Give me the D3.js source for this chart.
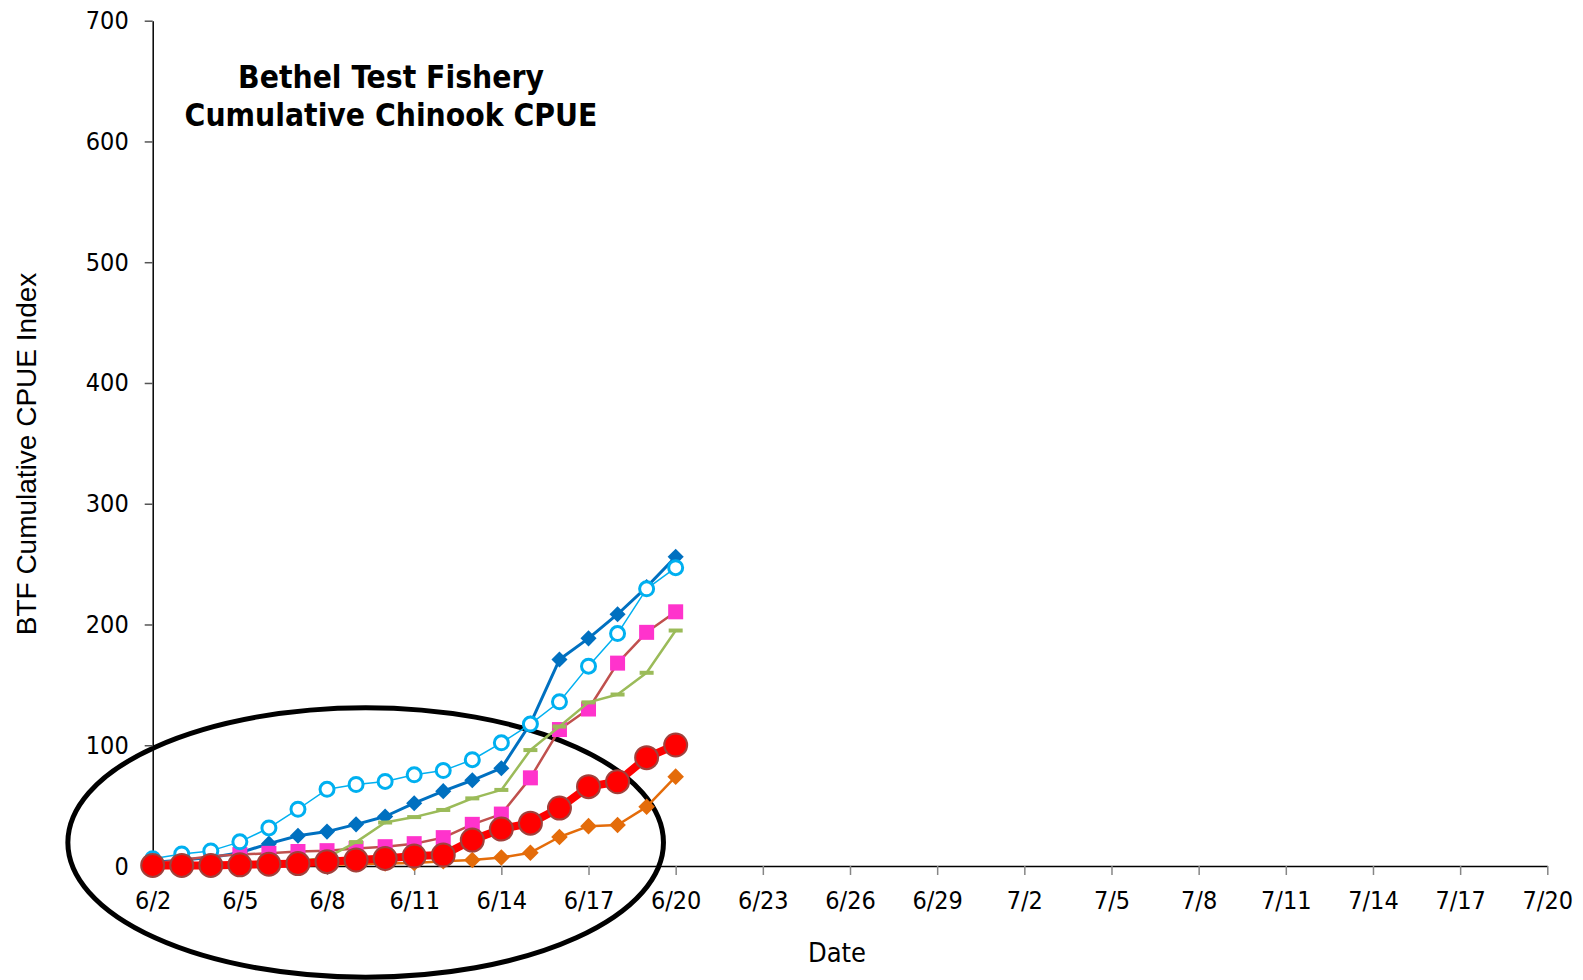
<!DOCTYPE html>
<html>
<head>
  <title>Bethel Test Fishery Cumulative Chinook CPUE</title>
  <style>
    body { margin: 0; background: #fff; }
    svg { display: block; }
    .tick text { font-family: "DejaVu Sans Condensed", "DejaVu Sans", sans-serif; font-size: 25px; fill: #000; }
  </style>
  <script src="https://d3js.org/d3.v7.min.js"></script>
</head>
<body>
  <div id="chart"></div>
  <script>
    // day 0 = 6/2; one value per day up to 6/20, axis runs to 7/20 (day 48)
    const lastDay = 48;
    const tickLabels = ["6/2", "6/5", "6/8", "6/11", "6/14", "6/17", "6/20", "6/23", "6/26", "6/29",
                        "7/2", "7/5", "7/8", "7/11", "7/14", "7/17", "7/20"];
    const yTicks = [0, 100, 200, 300, 400, 500, 600, 700];

    const darkBlue  = [3, 5, 7, 11, 18.5, 25, 28.5, 34.5, 41, 52, 62, 71, 81, 118, 171, 188.5, 208.5, 231, 256];
    const lightBlue = [6, 10, 12.5, 20, 31.5, 47, 63.5, 67.5, 70, 75.5, 79, 88, 102, 117.5, 136, 165.5, 192.5, 229.5, 247];
    const pink      = [2, 5, 8, 9.5, 10.5, 12, 12.7, 14.5, 16, 18.5, 23.5, 34.5, 43, 73, 113, 130, 168, 193.5, 210.5];
    const green     = [0.5, 1, 1.5, 2, 3, 4, 7, 19.8, 36, 40.5, 46.4, 56, 63, 96, 115.5, 135.5, 142, 160, 195];
    const orange    = [0, 0, 0, 0.5, 0.5, 1, 1, 1.5, 2, 2.5, 4, 5, 7, 11, 24, 33, 34, 49, 74];
    const current   = [0.5, 0.5, 0.5, 1, 1.5, 2, 3.6, 5, 6.3, 8.3, 9.1, 21.5, 30.6, 35.5, 48, 65.7, 69.8, 89.7, 100.2];

    // highlight ring, in data units (day offset from 6/2, index value)
    const ringCenter = { day: 7.33, value: 19.5 };
    const ringRadius = { days: 10.25, value: 111.6 };

    const W = 1583, H = 980;
    const svg = d3.select("#chart").append("svg").attr("width", W).attr("height", H);

    const x = d3.scaleLinear().domain([0, lastDay]).range([152.7, 1547.3]);
    const y = d3.scaleLinear().domain([0, 700]).range([866, 20.7]);

    // ring annotation
    svg.append("ellipse")
      .attr("cx", x(ringCenter.day))
      .attr("cy", y(ringCenter.value))
      .attr("rx", x(ringRadius.days) - x(0))
      .attr("ry", y(0) - y(ringRadius.value))
      .attr("fill", "none")
      .attr("stroke", "#000")
      .attr("stroke-width", 5);

    // axes
    const xAxis = d3.axisBottom(x).tickValues(tickLabels.map((_, i) => i * 3))
      .tickFormat((d, i) => tickLabels[i]).tickSizeOuter(0).tickSizeInner(9).tickPadding(16);
    const gx = svg.append("g").attr("transform", `translate(0,${y(0)})`).call(xAxis);
    gx.select(".domain").attr("stroke", "#000").attr("stroke-width", 1.5);
    gx.selectAll(".tick line").attr("stroke", "#868686").attr("stroke-width", 1.5);

    const yAxis = d3.axisLeft(y).tickValues(yTicks).tickSizeOuter(0).tickSizeInner(8).tickPadding(16);
    const gy = svg.append("g").attr("transform", `translate(${x(0)},0)`).call(yAxis);
    gy.select(".domain").attr("stroke", "#000").attr("stroke-width", 1.5);
    gy.selectAll(".tick line").attr("stroke", "#555").attr("stroke-width", 1.5);

    // series
    const line = d3.line().x((d, i) => x(i)).y(d => y(d));
    const pts = vals => vals.map((v, i) => ({ cx: x(i), cy: y(v) }));

    function drawLine(vals, color, width) {
      svg.append("path").datum(vals)
        .attr("d", line).attr("fill", "none")
        .attr("stroke", color).attr("stroke-width", width)
        .attr("stroke-linejoin", "round");
    }

    // dark blue, filled diamonds
    drawLine(darkBlue, "#0070C0", 3);
    svg.append("g").selectAll("path").data(pts(darkBlue)).join("path")
      .attr("d", d3.symbol(d3.symbolDiamond2, 165))
      .attr("transform", d => `translate(${d.cx},${d.cy})`)
      .attr("fill", "#0070C0");

    // pink squares on a brown-red line
    drawLine(pink, "#C0504D", 2.5);
    svg.append("g").selectAll("rect").data(pts(pink)).join("rect")
      .attr("x", d => d.cx - 7.5).attr("y", d => d.cy - 7.5)
      .attr("width", 15).attr("height", 15)
      .attr("fill", "#FF33CC");

    // green dashes
    drawLine(green, "#9BBB59", 2.5);
    svg.append("g").selectAll("rect").data(pts(green)).join("rect")
      .attr("x", d => d.cx - 7).attr("y", d => d.cy - 2)
      .attr("width", 14).attr("height", 4)
      .attr("fill", "#9BBB59");

    // orange diamonds
    drawLine(orange, "#E46C0A", 2.5);
    svg.append("g").selectAll("path").data(pts(orange)).join("path")
      .attr("d", d3.symbol(d3.symbolDiamond2, 175))
      .attr("transform", d => `translate(${d.cx},${d.cy})`)
      .attr("fill", "#E46C0A");

    // light blue open circles
    drawLine(lightBlue, "#00B0F0", 1.5);
    svg.append("g").selectAll("circle").data(pts(lightBlue)).join("circle")
      .attr("cx", d => d.cx).attr("cy", d => d.cy).attr("r", 7)
      .attr("fill", "#fff").attr("stroke", "#00B0F0").attr("stroke-width", 3);

    // current year: thick red line with big circles
    drawLine(current, "#FF0000", 8);
    svg.append("g").selectAll("circle").data(pts(current)).join("circle")
      .attr("cx", d => d.cx).attr("cy", d => d.cy).attr("r", 11.5)
      .attr("fill", "#FF0000").attr("stroke", "#A0413C").attr("stroke-width", 2);

    // titles
    const title = svg.append("text")
      .attr("text-anchor", "middle")
      .style("font-family", "'DejaVu Sans Condensed', 'DejaVu Sans', sans-serif")
      .style("font-weight", "bold").style("font-size", "31.5px");
    title.append("tspan").attr("x", 391).attr("y", 88).text("Bethel Test Fishery");
    title.append("tspan").attr("x", 391).attr("y", 126).text("Cumulative Chinook CPUE");

    svg.append("text")
      .attr("x", 837).attr("y", 962)
      .attr("text-anchor", "middle")
      .style("font-family", "'DejaVu Sans Condensed', 'DejaVu Sans', sans-serif")
      .style("font-size", "27px")
      .text("Date");

    svg.append("text")
      .attr("transform", "translate(36,454) rotate(-90)")
      .attr("text-anchor", "middle")
      .style("font-family", "'Liberation Sans', Arial, sans-serif")
      .style("font-size", "28px")
      .text("BTF Cumulative CPUE Index");
  </script>
</body>
</html>
